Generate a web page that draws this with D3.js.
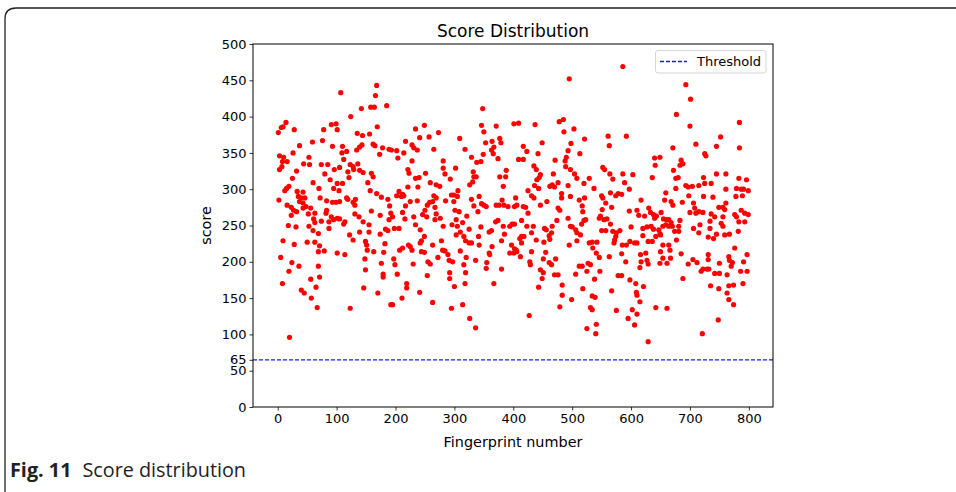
<!DOCTYPE html>
<html>
<head>
<meta charset="utf-8">
<script src="https://cdn.jsdelivr.net/npm/d3@7"></script>
<style>
  html, body { margin: 0; padding: 0; background: #fff; }
  svg { display: block; }
</style>
</head>
<body>
<svg id="chart" width="956" height="492"></svg>
<script>
// ---- Data: [fingerprint number, score], grouped by x band ----
const band1 = [[14,392],[9,386],[6,385],[1,378],[28,382],[78,382],[59,365],[76,367],[37,360],[26,350],[3,346],[10,344],[8,338],[16,338],[3,327],[7,331],[53,344],[44,335],[54,334],[74,334],[85,334],[32,325],[80,321],[25,315],[60,309],[70,301],[19,304],[15,301],[12,298],[2,285],[33,297],[43,296],[35,290],[40,288],[46,288],[37,283],[43,281],[48,276],[72,288],[83,284],[16,278],[23,275],[27,271],[23,264],[32,269],[43,274],[56,274],[52,266],[63,267],[82,267],[83,271],[61,259],[63,254],[74,256],[87,255],[87,246],[53,249],[60,243],[69,239],[18,250],[31,248],[9,229],[28,224],[50,227],[63,227],[71,222],[69,214],[79,215],[5,206],[24,199],[19,187],[36,194],[69,194],[71,179],[56,176],[65,165],[8,170],[40,161],[45,157],[57,150],[67,137],[20,96]];
const band2 = [[168,443],[107,433],[166,429],[185,415],[142,411],[158,413],[164,413],[124,400],[91,389],[99,390],[101,382],[169,386],[135,377],[144,374],[156,376],[93,359],[110,359],[109,350],[117,352],[112,341],[134,354],[139,358],[143,361],[162,362],[165,360],[178,357],[189,355],[173,348],[123,334],[128,331],[136,335],[129,327],[105,330],[96,327],[89,313],[101,308],[110,308],[121,316],[119,324],[139,326],[145,323],[159,322],[162,317],[153,309],[95,301],[104,298],[157,298],[168,294],[176,289],[187,286],[190,277],[117,288],[119,286],[132,286],[128,282],[131,278],[93,282],[99,282],[105,283],[159,270],[174,264],[192,267],[189,258],[131,266],[138,262],[91,262],[95,258],[101,260],[105,259],[114,255],[112,252],[145,255],[155,251],[183,245],[187,243],[174,238],[122,237],[128,230],[139,241],[155,241],[149,228],[151,223],[152,216],[163,214],[182,225],[180,213],[101,212],[114,210],[148,204],[176,198],[149,189],[179,183],[179,179],[146,164],[170,157],[123,136],[192,141]];
const band3 = [[249,388],[234,383],[241,371],[257,372],[273,378],[217,366],[228,361],[231,357],[237,354],[193,354],[202,353],[214,350],[204,343],[228,339],[265,355],[281,339],[281,329],[284,321],[293,314],[221,327],[223,322],[251,322],[234,315],[240,316],[259,309],[269,306],[275,304],[221,303],[238,303],[206,297],[212,293],[202,291],[210,290],[214,291],[265,291],[269,288],[285,284],[295,292],[225,283],[217,277],[237,284],[250,271],[254,278],[258,282],[263,283],[267,275],[269,266],[195,262],[212,268],[216,259],[231,262],[246,265],[253,262],[267,258],[276,260],[281,249],[296,251],[198,246],[206,246],[234,251],[242,244],[249,235],[244,229],[242,226],[263,223],[278,229],[207,216],[212,219],[222,223],[225,221],[228,216],[244,214],[249,213],[280,216],[284,215],[289,210],[255,200],[259,197],[272,206],[291,202],[197,204],[199,196],[230,197],[203,183],[292,185],[292,177],[219,170],[219,164],[254,181],[241,158],[211,150],[195,141],[263,144],[295,136]];
const band4 = [[348,411],[346,388],[350,379],[371,387],[309,370],[353,364],[364,366],[377,370],[379,364],[318,355],[363,354],[367,358],[366,349],[374,342],[349,348],[329,344],[338,337],[345,338],[302,329],[388,326],[377,317],[387,317],[332,324],[333,317],[337,317],[331,310],[326,306],[383,304],[306,298],[299,292],[305,290],[299,283],[342,290],[329,286],[333,277],[346,280],[350,278],[354,276],[371,278],[376,278],[381,285],[384,278],[391,276],[301,271],[308,269],[321,263],[340,269],[314,254],[303,258],[305,249],[310,241],[303,237],[316,235],[325,245],[345,248],[359,241],[363,243],[370,255],[374,257],[383,249],[394,249],[341,235],[385,238],[319,229],[325,226],[329,226],[342,223],[364,221],[380,229],[397,223],[310,215],[359,212],[360,210],[394,212],[320,206],[336,202],[355,199],[354,191],[297,200],[316,196],[380,190],[319,185],[300,166],[318,170],[367,170],[314,141],[326,122],[336,109]];
const band5 = [[495,452],[401,390],[409,391],[437,389],[478,393],[485,396],[486,379],[449,364],[417,359],[423,352],[442,349],[409,341],[417,341],[471,340],[488,339],[493,353],[490,344],[497,327],[489,331],[435,332],[439,327],[446,320],[444,316],[440,313],[468,321],[436,305],[443,301],[462,304],[466,306],[470,303],[476,309],[425,298],[431,291],[435,288],[482,294],[493,305],[497,290],[404,288],[406,278],[402,276],[417,276],[421,275],[425,267],[446,278],[457,283],[482,288],[476,274],[479,271],[414,257],[423,249],[434,249],[398,252],[402,252],[474,257],[493,260],[453,246],[456,244],[466,249],[465,240],[431,240],[414,235],[411,232],[418,235],[461,236],[462,231],[439,230],[452,227],[414,226],[495,223],[402,218],[405,216],[406,214],[401,212],[412,207],[431,214],[455,213],[428,200],[429,196],[451,204],[461,199],[465,196],[472,204],[470,182],[476,182],[446,189],[451,185],[449,177],[443,165],[483,168],[483,154],[479,138],[427,126],[499,148]];
const band6 = [[586,469],[503,383],[521,369],[561,373],[563,360],[592,373],[498,363],[513,349],[504,321],[508,315],[552,330],[555,327],[564,321],[569,314],[586,321],[589,309],[597,300],[584,293],[578,294],[574,291],[565,295],[520,308],[529,315],[537,301],[512,285],[517,277],[521,288],[550,291],[552,288],[557,281],[551,272],[567,275],[597,270],[518,269],[523,258],[516,252],[520,257],[548,263],[554,258],[546,260],[559,259],[565,252],[497,249],[500,248],[506,244],[508,240],[514,237],[508,229],[550,243],[557,243],[569,242],[575,240],[581,243],[574,235],[572,230],[571,226],[585,223],[592,223],[598,228],[529,226],[534,227],[542,227],[535,219],[541,212],[546,206],[563,207],[584,211],[591,200],[512,194],[517,194],[527,198],[531,196],[525,187],[547,187],[506,183],[578,181],[584,181],[538,176],[598,175],[518,163],[567,160],[534,153],[539,151],[531,137],[534,134],[575,133],[595,122],[525,108],[541,114],[540,101]];
const band7 = [[693,444],[701,424],[677,403],[700,387],[671,357],[640,343],[649,344],[641,333],[685,340],[688,335],[683,333],[672,326],[680,316],[676,315],[603,320],[636,316],[693,305],[697,303],[698,291],[676,301],[700,268],[659,295],[617,285],[657,285],[668,283],[671,278],[687,282],[610,271],[613,264],[623,263],[630,274],[633,268],[638,265],[643,263],[651,268],[640,260],[655,259],[660,258],[664,258],[668,254],[670,249],[683,257],[681,249],[681,242],[674,242],[600,248],[620,246],[627,248],[634,249],[638,245],[647,244],[649,239],[654,249],[659,251],[664,249],[620,236],[642,235],[650,237],[677,230],[606,226],[610,226],[636,228],[629,228],[654,223],[664,223],[666,216],[650,214],[616,210],[625,212],[617,200],[627,202],[629,197],[649,198],[654,205],[661,198],[667,205],[685,211],[697,197],[615,192],[688,177],[608,170],[621,166],[609,158],[610,154],[615,145],[642,137],[661,136],[602,134],[610,128],[606,113],[629,90]];
const band8 = [[784,392],[752,372],[745,359],[784,357],[710,362],[725,349],[727,346],[745,321],[761,321],[723,316],[783,315],[796,313],[725,308],[736,308],[704,304],[715,305],[761,300],[779,301],[787,300],[791,300],[799,298],[723,290],[739,289],[778,290],[789,291],[706,281],[708,274],[710,267],[715,269],[722,268],[749,275],[756,275],[761,281],[759,272],[736,266],[742,262],[756,262],[776,265],[779,262],[787,271],[793,267],[799,265],[783,255],[793,255],[734,256],[753,253],[756,249],[717,251],[706,246],[715,240],[734,246],[731,234],[740,232],[745,238],[759,237],[767,238],[782,242],[776,219],[705,203],[712,199],[722,190],[719,187],[729,190],[732,190],[731,210],[731,203],[742,184],[750,184],[750,198],[766,207],[767,202],[772,199],[770,194],[791,200],[797,210],[786,187],[797,187],[763,182],[735,167],[749,163],[766,167],[774,168],[790,170],[763,157],[766,148],[774,141],[748,120],[721,101]];

const thresholdValue = 65;
const xTicks = [0, 100, 200, 300, 400, 500, 600, 700, 800];
const yTicks = [0, 50, 65, 100, 150, 200, 250, 300, 350, 400, 450, 500];
const titleText = "Score Distribution";
const xLabelText = "Fingerprint number";
const yLabelText = "score";
const legendText = "Threshold";

const points = [].concat(band1, band2, band3, band4, band5, band6, band7, band8)
  .map(([fp, s]) => ({ fp, s }));

// ---- Layout ----
const svg = d3.select("#chart");
const plot = { left: 253, right: 773, top: 44, bottom: 407 };
const FONT = "'DejaVu Sans', sans-serif";
const BLUE = "#1a1aff";

const x = d3.scaleLinear().domain([-42, 841]).range([plot.left, plot.right]);
const y = d3.scaleLinear().domain([0, 500]).range([plot.bottom, plot.top]);

// Figure frame (rounded top-left corner)
svg.append("path")
  .attr("d", "M5,492 V19 Q5,8 16,8 H956")
  .attr("fill", "none").attr("stroke", "#222").attr("stroke-width", 1.3);

// Title
svg.append("text")
  .attr("x", (plot.left + plot.right) / 2).attr("y", 37)
  .attr("text-anchor", "middle")
  .attr("font-family", FONT).attr("font-size", 17).attr("fill", "#000")
  .text(titleText);

// Points
svg.append("g")
  .selectAll("circle")
  .data(points)
  .join("circle")
  .attr("cx", d => x(d.fp))
  .attr("cy", d => y(d.s))
  .attr("r", 2.6)
  .attr("fill", "#ff0000");

// Threshold line
svg.append("line")
  .attr("x1", plot.left).attr("x2", plot.right)
  .attr("y1", y(thresholdValue)).attr("y2", y(thresholdValue))
  .attr("stroke", BLUE).attr("stroke-width", 1.3)
  .attr("stroke-dasharray", "4,2");

// Axes
const xAxis = d3.axisBottom(x).tickValues(xTicks).tickSize(3.5).tickPadding(3);
const yAxis = d3.axisLeft(y).tickValues(yTicks).tickSize(3.5).tickPadding(3);

const gx = svg.append("g").attr("transform", `translate(0,${plot.bottom})`).call(xAxis);
const gy = svg.append("g").attr("transform", `translate(${plot.left},0)`).call(yAxis);
[gx, gy].forEach(g => {
  g.select(".domain").remove();
  g.selectAll("line").attr("stroke", "#000").attr("stroke-width", 0.8);
  g.selectAll("text").attr("font-family", FONT).attr("font-size", 13).attr("fill", "#000");
});

// Spines
svg.append("rect")
  .attr("x", plot.left).attr("y", plot.top)
  .attr("width", plot.right - plot.left).attr("height", plot.bottom - plot.top)
  .attr("fill", "none").attr("stroke", "#000").attr("stroke-width", 1);

// Axis labels
svg.append("text")
  .attr("x", (plot.left + plot.right) / 2).attr("y", 447)
  .attr("text-anchor", "middle")
  .attr("font-family", FONT).attr("font-size", 14.4).attr("fill", "#000")
  .text(xLabelText);
svg.append("text")
  .attr("transform", `translate(211,${(plot.top + plot.bottom) / 2}) rotate(-90)`)
  .attr("text-anchor", "middle")
  .attr("font-family", FONT).attr("font-size", 14.4).attr("fill", "#000")
  .text(yLabelText);

// Legend
const lg = svg.append("g");
lg.append("rect")
  .attr("x", 655.5).attr("y", 50.5).attr("width", 110.5).attr("height", 22.5)
  .attr("rx", 2.5)
  .attr("fill", "#fff").attr("fill-opacity", 0.8)
  .attr("stroke", "#cccccc").attr("stroke-width", 0.8);
lg.append("line")
  .attr("x1", 660).attr("x2", 687).attr("y1", 61.5).attr("y2", 61.5)
  .attr("stroke", BLUE).attr("stroke-width", 1.3)
  .attr("stroke-dasharray", "4,2");
lg.append("text")
  .attr("x", 697).attr("y", 66)
  .attr("font-family", FONT).attr("font-size", 13).attr("fill", "#000")
  .text(legendText);

// Caption
const cap = svg.append("text")
  .attr("x", 10).attr("y", 477)
  .attr("font-family", "'Open Sans', Lato, sans-serif").attr("font-size", 19.8).attr("fill", "#231f20");
cap.append("tspan").attr("font-weight", "bold").text("Fig. 11");
cap.append("tspan").attr("dx", 11).text("Score distribution");
</script>
</body>
</html>
